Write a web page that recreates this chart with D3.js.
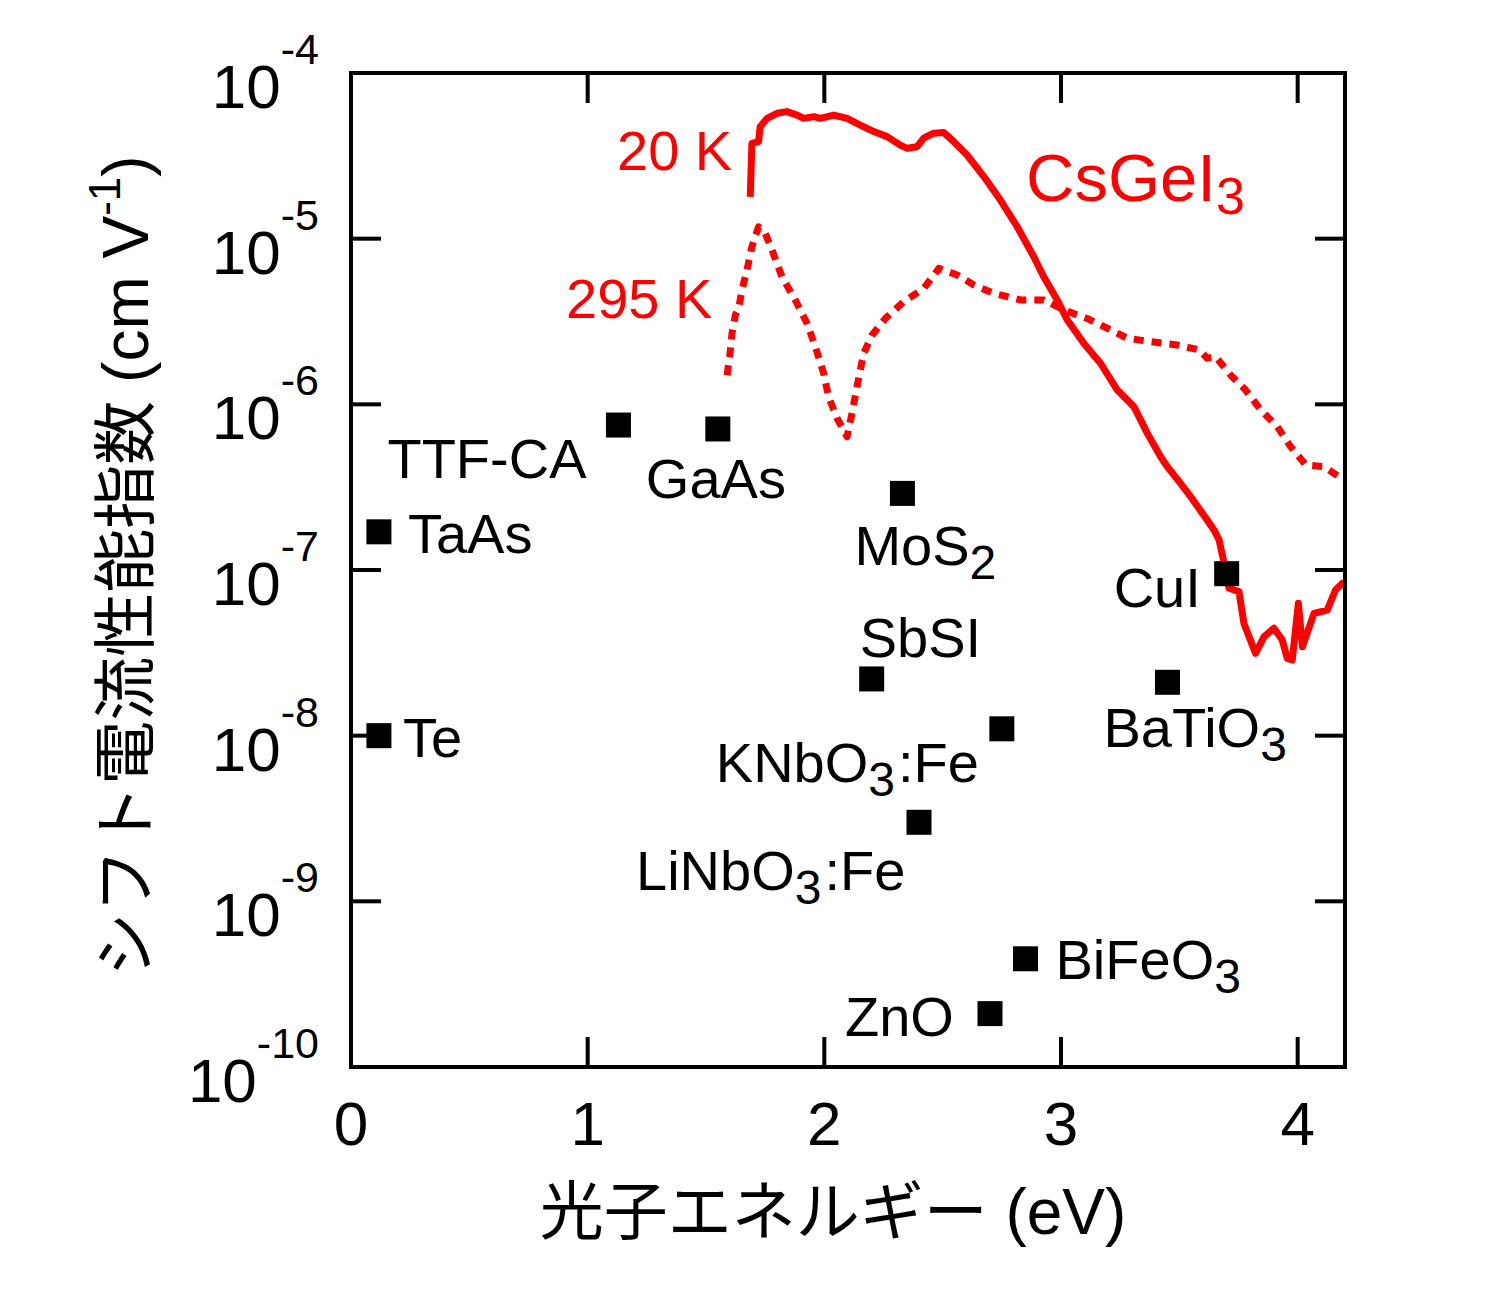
<!DOCTYPE html>
<html><head><meta charset="utf-8">
<script src="https://cdn.jsdelivr.net/npm/d3@7"></script>
<style>body{margin:0;background:#fff}svg{display:block}</style>
</head><body>
<svg id="c" width="1512" height="1291"></svg>
<script>
const energy20K = [1.687,1.694,1.722,1.729,1.758,1.80,1.842,1.885,1.913,1.955,1.983,2.04,2.096,2.152,2.209,2.265,2.321,2.35,2.392,2.42,2.462,2.505,2.547,2.603,2.674,2.744,2.815,2.885,2.927,2.984,3.026,3.097,3.167,3.238,3.308,3.365,3.421,3.449,3.505,3.548,3.618,3.647,3.668,3.689,3.71,3.752,3.773,3.822,3.858,3.90,3.935,3.956,3.977,4.003,4.02,4.069,4.125,4.16,4.196];
const value20K = [1.79e-5,3.76e-5,3.85e-5,4.74e-5,5.32e-5,5.71e-5,5.85e-5,5.57e-5,5.32e-5,5.45e-5,5.32e-5,5.57e-5,5.32e-5,4.85e-5,4.43e-5,4.13e-5,3.67e-5,3.51e-5,3.59e-5,4.04e-5,4.33e-5,4.37e-5,3.85e-5,3.20e-5,2.37e-5,1.71e-5,1.18e-5,7.78e-6,5.89e-6,4.27e-6,3.24e-6,2.33e-6,1.77e-6,1.22e-6,9.68e-7,6.68e-7,4.83e-7,4.21e-7,3.33e-7,2.77e-7,2.00e-7,1.74e-7,1.52e-7,1.10e-7,7.76e-8,7.40e-8,4.76e-8,3.14e-8,3.96e-8,4.45e-8,3.78e-8,2.93e-8,2.86e-8,6.30e-8,3.44e-8,5.47e-8,5.73e-8,7.57e-8,8.49e-8];
const energy295K = [1.589,1.60,1.61,1.624,1.638,1.652,1.673,1.694,1.722,1.75,1.779,1.821,1.877,1.927,1.962,1.997,2.018,2.054,2.096,2.117,2.138,2.166,2.202,2.258,2.336,2.42,2.484,2.561,2.632,2.716,2.829,2.927,3.012,3.11,3.195,3.28,3.378,3.491,3.583,3.618,3.653,3.717,3.78,3.844,3.914,3.97,4.034,4.111,4.196];
const value295K = [1.50e-6,1.94e-6,2.69e-6,3.46e-6,3.80e-6,4.90e-6,6.47e-6,8.93e-6,1.18e-5,1.08e-5,8.55e-6,5.89e-6,4.27e-6,3.08e-6,2.23e-6,1.54e-6,1.11e-6,8.24e-7,6.38e-7,8.83e-7,1.28e-6,2.03e-6,2.62e-6,3.30e-6,4.17e-6,5.01e-6,6.62e-6,6.04e-6,5.25e-6,4.68e-6,4.27e-6,4.27e-6,3.71e-6,3.30e-6,2.88e-6,2.51e-6,2.39e-6,2.28e-6,2.13e-6,1.90e-6,1.94e-6,1.50e-6,1.22e-6,9.25e-7,7.33e-7,5.56e-7,4.31e-7,4.21e-7,3.49e-7];

const materials = ["Te","TaAs","TTF-CA","GaAs","MoS2","SbSI","KNbO3:Fe","LiNbO3:Fe","BiFeO3","ZnO","BaTiO3","CuI"];
const matEnergy = [0.118,0.118,1.13,1.55,2.33,2.20,2.75,2.40,2.85,2.70,3.45,3.70];
const matValue = [1.0e-8,1.7e-7,7.5e-7,7.1e-7,2.9e-7,2.2e-8,1.1e-8,3.0e-9,4.5e-10,2.1e-10,2.1e-8,9.5e-8];
// label text parts: [main, subscript, rest]
const matLabel = [["Te","",""],["TaAs","",""],["TTF-CA","",""],["GaAs","",""],["MoS","2",""],["SbSI","",""],["KNbO","3",":Fe"],["LiNbO","3",":Fe"],["BiFeO","3",""],["ZnO","",""],["BaTiO","3",""],["CuI","",""]];
// label offsets (px) relative to marker centre: dx, dy(baseline)
const matLabelDx = [24,29,-231,-72,-48,-12,-286,-283,30,-145,-64,-113];
const matLabelDy = [21,21,53,69,72,-22,53,68,20,22,65,33];

const xTicks = [0,1,2,3,4];
const yTicks = [1e-10,1e-9,1e-8,1e-7,1e-6,1e-5,1e-4];

const L=351,R=1345,T=73,B=1067;
const x = d3.scaleLinear().domain([0,4.2]).range([L,R]);
const y = d3.scaleLog().domain([1e-10,1e-4]).range([B,T]);

const svg = d3.select("#c");
const FONT = "'Liberation Sans', Arial, sans-serif";
const CJK = "'Liberation Sans', 'Noto Sans CJK JP', sans-serif";

svg.append("defs").append("clipPath").attr("id","clip")
  .append("rect").attr("x",L).attr("y",T).attr("width",R-L).attr("height",B-T);

// curves
const line = d3.line().x(d=>x(d[0])).y(d=>y(d[1]));
const d20 = energy20K.map((e,i)=>[e,value20K[i]]);
const d295 = energy295K.map((e,i)=>[e,value295K[i]]);
const g = svg.append("g").attr("clip-path","url(#clip)");
g.append("path").attr("d",line(d295)).attr("fill","none").attr("stroke","#ff0000")
  .attr("stroke-width",7).attr("stroke-dasharray","10,8").attr("stroke-linejoin","round");
g.append("path").attr("d",line(d20)).attr("fill","none").attr("stroke","#ff0000")
  .attr("stroke-width",7).attr("stroke-linejoin","round");

// markers
const S=25;
svg.append("g").selectAll("rect").data(materials).join("rect")
  .attr("x",(d,i)=>x(matEnergy[i])-S/2).attr("y",(d,i)=>y(matValue[i])-S/2)
  .attr("width",S).attr("height",S).attr("fill","#000");

// labels
const lab = svg.append("g").attr("font-family",FONT).attr("font-size",56).attr("fill","#000");
materials.forEach((m,i)=>{
  const t = lab.append("text").attr("x",x(matEnergy[i])+matLabelDx[i]).attr("y",y(matValue[i])+matLabelDy[i]);
  const p = matLabel[i];
  t.append("tspan").text(p[0]);
  if(p[1]){ t.append("tspan").attr("font-size",48).attr("dy",14).text(p[1]);
    if(p[2]) t.append("tspan").attr("dy",-14).attr("dx",3).text(p[2]); }
});

// red labels
const red = svg.append("g").attr("font-family",FONT).attr("fill","#ff0000");
red.append("text").attr("x",617).attr("y",170).attr("font-size",56).text("20 K");
red.append("text").attr("x",566).attr("y",318).attr("font-size",56).text("295 K");
const cs = red.append("text").attr("x",1026).attr("y",201).attr("font-size",67);
cs.append("tspan").text("CsGeI");
cs.append("tspan").attr("font-size",52).attr("dy",13).text("3");

// frame
svg.append("rect").attr("x",L).attr("y",T).attr("width",R-L).attr("height",B-T)
  .attr("fill","none").attr("stroke","#000").attr("stroke-width",4);

// ticks
const TL=30;
const tk = svg.append("g").attr("stroke","#000").attr("stroke-width",4);
xTicks.forEach(v=>{
  tk.append("line").attr("x1",x(v)).attr("x2",x(v)).attr("y1",B).attr("y2",B-TL);
  tk.append("line").attr("x1",x(v)).attr("x2",x(v)).attr("y1",T).attr("y2",T+TL);
});
yTicks.forEach(v=>{
  tk.append("line").attr("x1",L).attr("x2",L+TL).attr("y1",y(v)).attr("y2",y(v));
  tk.append("line").attr("x1",R).attr("x2",R-TL).attr("y1",y(v)).attr("y2",y(v));
});

// tick labels
const tl = svg.append("g").attr("font-family",FONT).attr("fill","#000");
xTicks.forEach(v=>{
  tl.append("text").attr("x",x(v)).attr("y",B+78).attr("text-anchor","middle").attr("font-size",62).text(d3.format("d")(v));
});
yTicks.forEach(v=>{
  const e = Math.round(Math.log10(v));
  const t = tl.append("text").attr("x",319).attr("y",y(v)+35).attr("text-anchor","end").attr("font-size",62);
  t.append("tspan").text("10");
  t.append("tspan").attr("font-size",43).attr("dy",-44).text(String(e));
});

// axis titles
svg.append("text").attr("x",833).attr("y",1234).attr("text-anchor","middle")
  .attr("font-family",CJK).attr("font-size",64).attr("fill","#000").text("光子エネルギー (eV)");
const yt = svg.append("text").attr("transform","translate(148,566) rotate(-90)").attr("text-anchor","middle")
  .attr("font-family",CJK).attr("font-size",64).attr("fill","#000");
yt.append("tspan").text("シフト電流性能指数 (cm V");
yt.append("tspan").attr("font-size",44).attr("dy",-28).text("-1");
yt.append("tspan").attr("dy",28).text(")");
</script>
</body></html>
